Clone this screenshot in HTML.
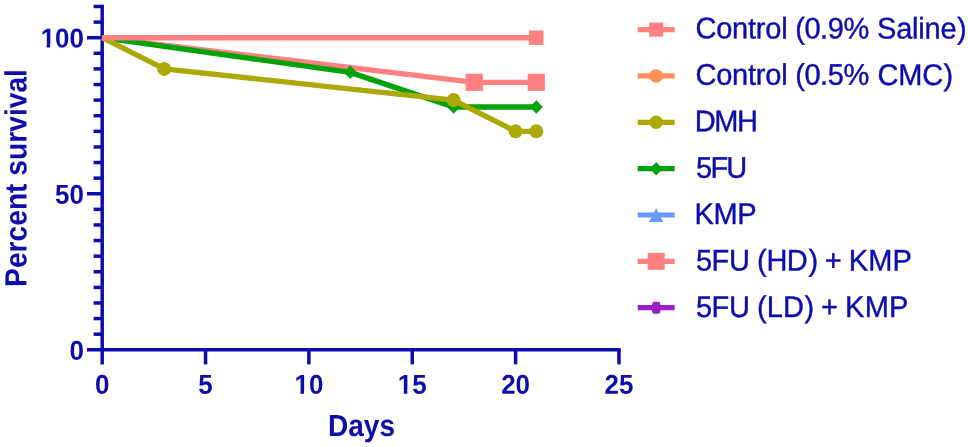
<!DOCTYPE html>
<html lang="en"><head><meta charset="utf-8"><title>Percent survival</title>
<style>html,body{margin:0;padding:0;background:#fff}svg{display:block;filter:blur(0.65px)}text{font-family:"Liberation Sans",Arial,sans-serif}.b{font-weight:bold;font-size:26px;fill:#0d0dab}.t{font-weight:bold;font-size:28px;fill:#0d0dab}.l{font-size:29px;fill:#0d0dab;stroke:#0d0dab;stroke-width:0.4px}</style></head><body>
<svg width="968" height="447" viewBox="0 0 968 447">
<rect width="968" height="447" fill="#fff"/>
<g stroke="#0d0dab" stroke-width="3.5" fill="none">
<path d="M102.20 4.74 V364.40"/>
<path d="M87.00 349.80 H620.70"/>
<path d="M93.6 334.19 H102.20"/>
<path d="M93.6 318.59 H102.20"/>
<path d="M93.6 302.99 H102.20"/>
<path d="M93.6 287.38 H102.20"/>
<path d="M93.6 271.77 H102.20"/>
<path d="M93.6 256.17 H102.20"/>
<path d="M93.6 240.56 H102.20"/>
<path d="M93.6 224.96 H102.20"/>
<path d="M93.6 209.36 H102.20"/>
<path d="M87 193.75 H102.20"/>
<path d="M93.6 178.15 H102.20"/>
<path d="M93.6 162.54 H102.20"/>
<path d="M93.6 146.94 H102.20"/>
<path d="M93.6 131.33 H102.20"/>
<path d="M93.6 115.73 H102.20"/>
<path d="M93.6 100.12 H102.20"/>
<path d="M93.6 84.51 H102.20"/>
<path d="M93.6 68.91 H102.20"/>
<path d="M93.6 53.31 H102.20"/>
<path d="M87 37.70 H102.20"/>
<path d="M93.6 22.10 H102.20"/>
<path d="M93.6 6.49 H102.20"/>
<path d="M205.55 349.80 V364.4"/>
<path d="M308.90 349.80 V364.4"/>
<path d="M412.25 349.80 V364.4"/>
<path d="M515.60 349.80 V364.4"/>
<path d="M618.95 349.80 V364.4"/>
</g>
<polyline points="102.20,37.70 474.26,82.33 536.27,82.33" fill="none" stroke="#ff8080" stroke-width="5.4" stroke-linejoin="round"/>
<rect x="465.66" y="73.73" width="17.20" height="17.20" fill="#ff8080"/>
<rect x="527.67" y="73.73" width="17.20" height="17.20" fill="#ff8080"/>
<polyline points="102.20,37.70 350.24,72.34 453.59,106.99 536.27,106.99" fill="none" stroke="#00a30a" stroke-width="5.4" stroke-linejoin="round"/>
<polygon points="343.74,72.34 350.24,65.59 356.74,72.34 350.24,79.09" fill="#00a30a"/>
<polygon points="447.09,106.99 453.59,100.24 460.09,106.99 453.59,113.74" fill="#00a30a"/>
<polygon points="529.77,106.99 536.27,100.24 542.77,106.99 536.27,113.74" fill="#00a30a"/>
<polyline points="102.20,37.70 164.21,68.91 453.59,100.12 515.60,131.33 536.27,131.33" fill="none" stroke="#aba808" stroke-width="5.4" stroke-linejoin="round"/>
<circle cx="164.21" cy="68.91" r="7.00" fill="#aba808"/>
<circle cx="453.59" cy="100.12" r="7.00" fill="#aba808"/>
<circle cx="515.60" cy="131.33" r="7.00" fill="#aba808"/>
<circle cx="536.27" cy="131.33" r="7.00" fill="#aba808"/>
<polyline points="102.20,37.70 536.27,37.70" fill="none" stroke="#ff8080" stroke-width="5.4" stroke-linejoin="round"/>
<rect x="529.07" y="30.50" width="14.40" height="14.40" fill="#ff8080"/>
<text class="b" transform="translate(84 359.70) rotate(-0.03) scale(1 1.045)" text-anchor="end">0</text>
<text class="b" transform="translate(84 203.65) rotate(-0.03) scale(1 1.045)" text-anchor="end">50</text>
<text class="b" transform="translate(84 47.60) rotate(-0.03) scale(1 1.045)" text-anchor="end">100</text>
<text class="b" transform="translate(102.20 393.80) rotate(0.03) scale(1 1.045)" text-anchor="middle">0</text>
<text class="b" transform="translate(205.55 393.80) rotate(0.03) scale(1 1.045)" text-anchor="middle">5</text>
<text class="b" transform="translate(308.90 393.80) rotate(0.03) scale(1 1.045)" text-anchor="middle">10</text>
<text class="b" transform="translate(412.25 393.80) rotate(0.03) scale(1 1.045)" text-anchor="middle">15</text>
<text class="b" transform="translate(515.60 393.80) rotate(0.03) scale(1 1.045)" text-anchor="middle">20</text>
<text class="b" transform="translate(618.95 393.80) rotate(0.03) scale(1 1.045)" text-anchor="middle">25</text>
<rect x="41.43" y="43.62" width="5.20" height="4.58" fill="#fff"/>
<rect x="50.18" y="43.62" width="5.25" height="4.58" fill="#fff"/>
<rect x="295.24" y="389.82" width="5.20" height="4.58" fill="#fff"/>
<rect x="303.99" y="389.82" width="5.25" height="4.58" fill="#fff"/>
<rect x="398.59" y="389.82" width="5.20" height="4.58" fill="#fff"/>
<rect x="407.34" y="389.82" width="5.25" height="4.58" fill="#fff"/>
<text class="t" transform="translate(361.5 436) rotate(0.03) scale(1 1.09)" text-anchor="middle">Days</text>
<text class="t" style="font-size:28.2px" transform="translate(26.5 178.0) rotate(-90.03) scale(1 1.09)" text-anchor="middle">Percent survival</text>
<path d="M637.7 29.60 H674.7" stroke="#ff8080" stroke-width="5.2"/>
<rect x="649.15" y="22.55" width="14.10" height="14.10" fill="#ff8080"/>
<text class="l" xml:space="preserve" transform="translate(696 38.35) rotate(0.03) scale(1 1.03)"><tspan x="-0.60" letter-spacing="-0.20">Control </tspan><tspan x="99.20" letter-spacing="-0.42">(0.9% </tspan><tspan x="181.00" letter-spacing="-0.20">Saline</tspan><tspan dx="0.70">)</tspan></text>
<path d="M637.7 75.95 H674.7" stroke="#ff9055" stroke-width="5.2"/>
<circle cx="656.20" cy="75.95" r="6.70" fill="#ff9055"/>
<text class="l" xml:space="preserve" transform="translate(696 84.78) rotate(0.03) scale(1 1.03)"><tspan x="-0.60" letter-spacing="-0.20">Control </tspan><tspan x="99.20" letter-spacing="-0.42">(0.5% </tspan><tspan x="181.60" letter-spacing="-0.25">CMC</tspan><tspan dx="0.75">)</tspan></text>
<path d="M637.7 122.30 H674.7" stroke="#aba808" stroke-width="5.2"/>
<circle cx="656.20" cy="122.30" r="6.70" fill="#aba808"/>
<text class="l" xml:space="preserve" transform="translate(696 131.21) rotate(0.03) scale(1 1.03)"><tspan x="-1.20" letter-spacing="-1.40">DMH</tspan></text>
<path d="M637.7 168.65 H674.7" stroke="#00a30a" stroke-width="5.2"/>
<polygon points="649.70,168.65 656.20,161.90 662.70,168.65 656.20,175.40" fill="#00a30a"/>
<text class="l" xml:space="preserve" transform="translate(696 177.64) rotate(0.03) scale(1 1.03)"><tspan x="-0.10" letter-spacing="-1.52">5F</tspan><tspan dx="-0.50">U</tspan></text>
<path d="M637.7 215.00 H674.7" stroke="#6a96f8" stroke-width="5.2"/>
<polygon points="649.05,222.00 656.20,208.20 663.35,222.00" fill="#6a96f8"/>
<text class="l" xml:space="preserve" transform="translate(696 224.07) rotate(0.03) scale(1 1.03)"><tspan x="-1.40" letter-spacing="-0.45">KMP</tspan></text>
<path d="M637.7 261.35 H674.7" stroke="#ff8080" stroke-width="5.2"/>
<rect x="647.70" y="252.85" width="17.00" height="17.00" fill="#ff8080"/>
<text class="l" xml:space="preserve" transform="translate(696 270.50) rotate(0.03) scale(1 1.03)"><tspan x="-0.10" letter-spacing="-1.32">5</tspan><tspan dx="0.90" letter-spacing="-1.32">F</tspan><tspan dx="0.90">U </tspan><tspan x="61.00" letter-spacing="-0.75">(</tspan><tspan dx="0.60" letter-spacing="-0.75">HD</tspan><tspan dx="1.60">)</tspan><tspan x="120.64"> + </tspan><tspan x="152.70" letter-spacing="0.15">KMP</tspan></text>
<path d="M637.7 307.70 H674.7" stroke="#9a20c8" stroke-width="5.2"/>
<polygon points="650.80,307.70 653.00,301.70 659.40,301.70 661.60,307.70 659.40,313.70 653.00,313.70" fill="#9a20c8"/>
<text class="l" xml:space="preserve" transform="translate(696 316.93) rotate(0.03) scale(1 1.03)"><tspan x="-0.10" letter-spacing="-1.32">5</tspan><tspan dx="0.90" letter-spacing="-1.32">F</tspan><tspan dx="0.90">U </tspan><tspan x="61.10" letter-spacing="-0.38">(</tspan><tspan dx="0.50" letter-spacing="-0.38">L</tspan><tspan dx="0.50" letter-spacing="-0.38">D</tspan><tspan dx="0.80">)</tspan><tspan x="116.94"> + </tspan><tspan x="149.00" letter-spacing="0.30">KMP</tspan></text>
</svg></body></html>
